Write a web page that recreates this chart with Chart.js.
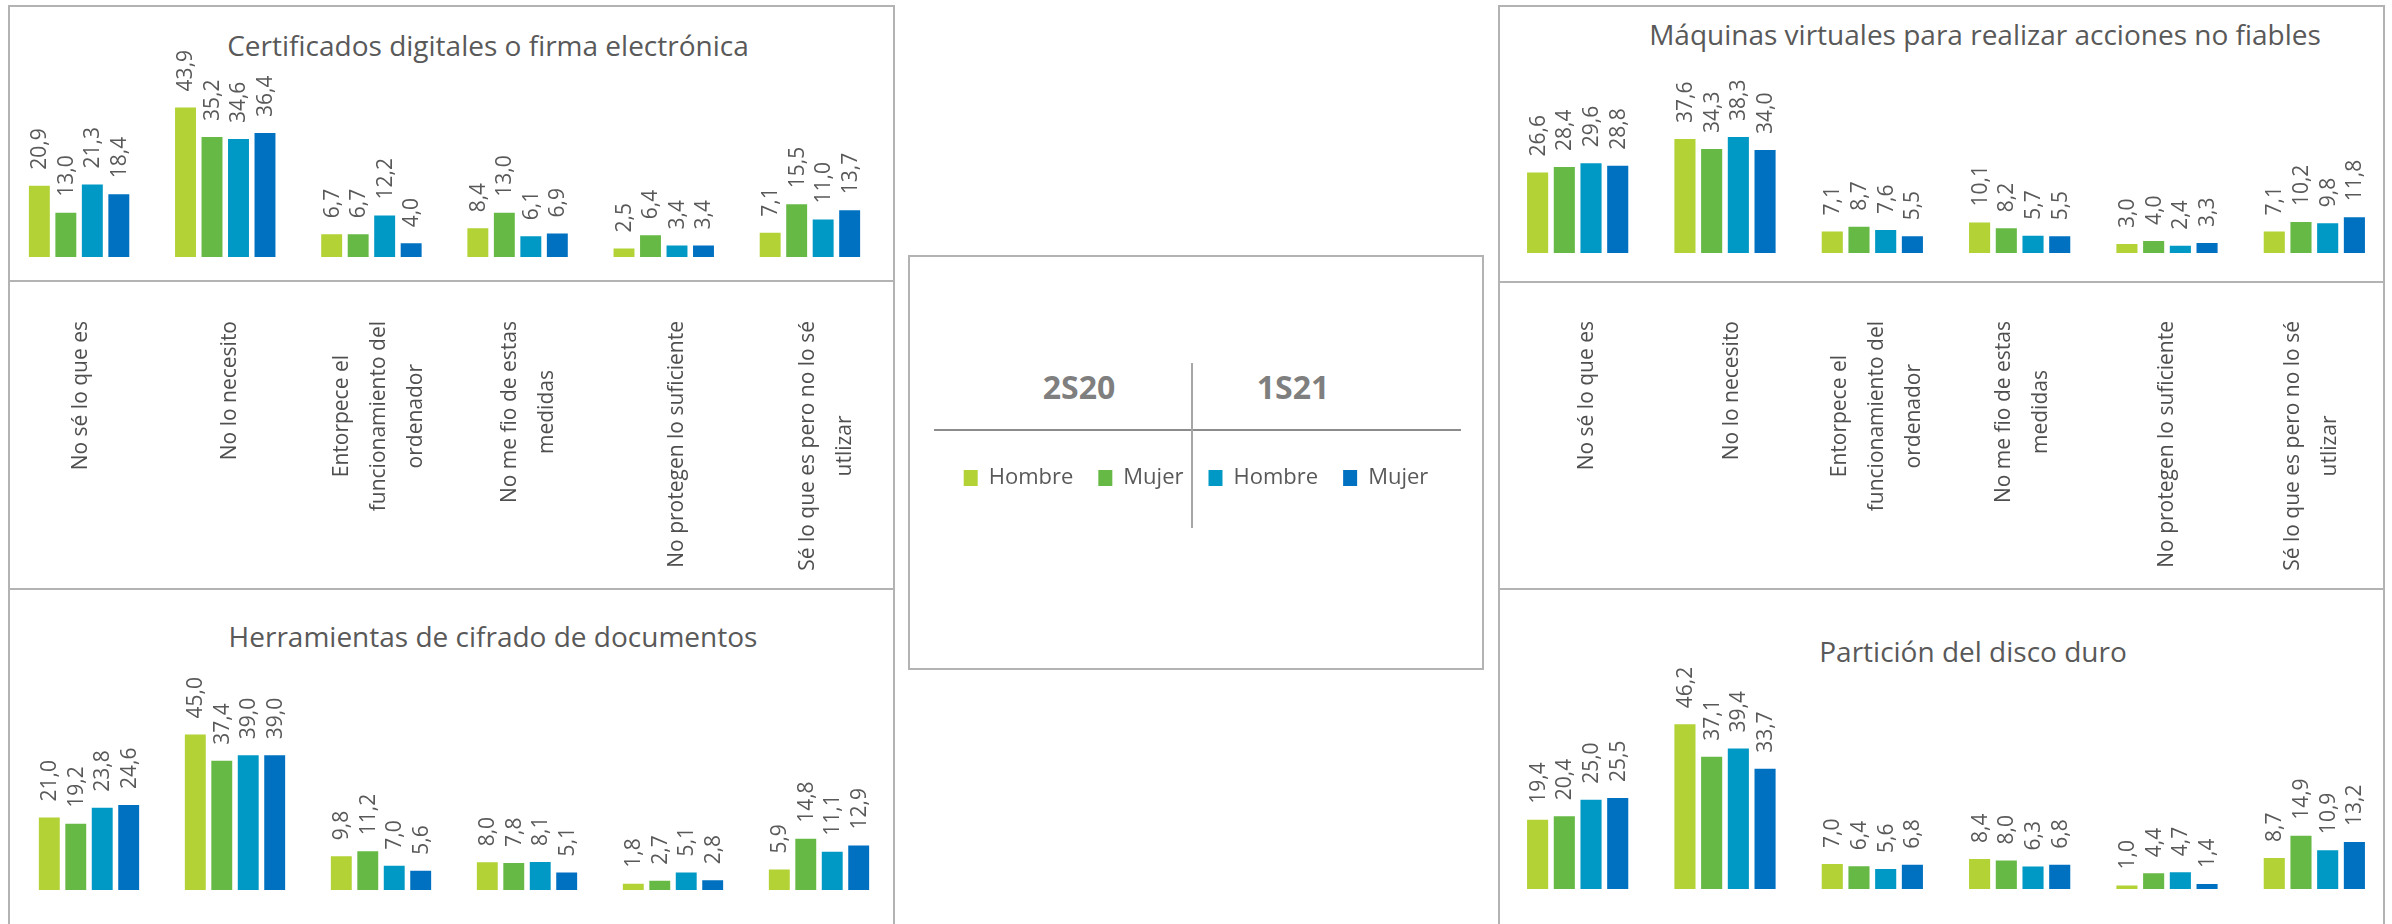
<!DOCTYPE html>
<html lang="es">
<head>
<meta charset="utf-8">
<title>Motivos para no utilizar medidas de seguridad</title>
<script src="https://cdn.jsdelivr.net/npm/chart.js@4.4.1/dist/chart.umd.min.js"></script>
<style>
  html, body { margin: 0; padding: 0; background: #ffffff; }
  body { width: 2392px; height: 924px; position: relative; overflow: hidden; font-family: "Open Sans", sans-serif; }
  .box { position: absolute; border: 2px solid #b3b3b3; box-sizing: border-box; }
  canvas { position: absolute; }
  .title { position: absolute; white-space: nowrap; font-size: 28px; line-height: 28px; color: #595959; transform: translateX(-50%); }
  .head { position: absolute; white-space: nowrap; font-size: 32px; line-height: 32px; font-weight: 700; color: #7f7f7f; transform: translateX(-50%); }
  .line { position: absolute; }
</style>
</head>
<body>
<!-- frames -->
<div class="box" style="left:8px;top:5px;width:887px;height:277px;"></div>
<div class="box" style="left:8px;top:280px;width:887px;height:310px;"></div>
<div class="box" style="left:8px;top:588px;width:887px;height:400px;"></div>
<div class="box" style="left:1498px;top:5px;width:887px;height:278px;"></div>
<div class="box" style="left:1498px;top:281px;width:887px;height:309px;"></div>
<div class="box" style="left:1498px;top:588px;width:887px;height:400px;"></div>
<div class="box" style="left:908px;top:255px;width:576px;height:415px;"></div>

<!-- legend headers and separators -->
<div class="head" style="left:1079px;top:371px;">2S20</div>
<div class="head" style="left:1293px;top:371px;">1S21</div>
<div class="line" style="left:934px;top:429px;width:527px;height:2px;background:#8c8c8c;"></div>
<div class="line" style="left:1191px;top:363px;width:2px;height:165px;background:#a6a6a6;"></div>

<div id="titles"></div>

<script>
// ---------- data ----------
const categories = [
  "No sé lo que es",
  "No lo necesito",
  "Entorpece el funcionamiento del ordenador",
  "No me fio de estas medidas",
  "No protegen lo suficiente",
  "Sé lo que es pero no lo sé utlizar"
];
const tickLabels = [
  ["No sé lo que es"],
  ["No lo necesito"],
  ["Entorpece el", "funcionamiento del", "ordenador"],
  ["No me fio de estas", "medidas"],
  ["No protegen lo suficiente"],
  ["Sé lo que es pero no lo sé", "utlizar"]
];
const seriesNames = ["Hombre", "Mujer", "Hombre", "Mujer"];
const periods = ["2S20", "2S20", "1S21", "1S21"];

const titleCert = "Certificados digitales o firma electrónica";
const cert_h2S20 = [20.9, 43.9, 6.7, 8.4, 2.5, 7.1];
const cert_m2S20 = [13.0, 35.2, 6.7, 13.0, 6.4, 15.5];
const cert_h1S21 = [21.3, 34.6, 12.2, 6.1, 3.4, 11.0];
const cert_m1S21 = [18.4, 36.4, 4.0, 6.9, 3.4, 13.7];

const titleCifr = "Herramientas de cifrado de documentos";
const cifr_h2S20 = [21.0, 45.0, 9.8, 8.0, 1.8, 5.9];
const cifr_m2S20 = [19.2, 37.4, 11.2, 7.8, 2.7, 14.8];
const cifr_h1S21 = [23.8, 39.0, 7.0, 8.1, 5.1, 11.1];
const cifr_m1S21 = [24.6, 39.0, 5.6, 5.1, 2.8, 12.9];

const titleVirt = "Máquinas virtuales para realizar acciones no fiables";
const virt_h2S20 = [26.6, 37.6, 7.1, 10.1, 3.0, 7.1];
const virt_m2S20 = [28.4, 34.3, 8.7, 8.2, 4.0, 10.2];
const virt_h1S21 = [29.6, 38.3, 7.6, 5.7, 2.4, 9.8];
const virt_m1S21 = [28.8, 34.0, 5.5, 5.5, 3.3, 11.8];

const titlePart = "Partición del disco duro";
const part_h2S20 = [19.4, 46.2, 7.0, 8.4, 1.0, 8.7];
const part_m2S20 = [20.4, 37.1, 6.4, 8.0, 4.4, 14.9];
const part_h1S21 = [25.0, 39.4, 5.6, 6.3, 4.7, 10.9];
const part_m1S21 = [25.5, 33.7, 6.8, 6.8, 1.4, 13.2];

// ---------- styles ----------
const seriesColors = ["#b2d235", "#67b946", "#0098c4", "#0071c1"];
const textGray = "#595959";
const labelGray = "#4f4f4f";

function fmt(v) { return v.toFixed(1).replace(".", ","); }

const valueLabels = {
  id: "valueLabels",
  afterDatasetsDraw(chart) {
    const ctx = chart.ctx;
    ctx.save();
    ctx.font = '21px "Open Sans"';
    ctx.fillStyle = textGray;
    ctx.textAlign = "left";
    ctx.textBaseline = "middle";
    chart.data.datasets.forEach((ds, di) => {
      chart.getDatasetMeta(di).data.forEach((bar, i) => {
        ctx.save();
        ctx.translate(bar.x + 1, bar.y - 16);
        ctx.rotate(-Math.PI / 2);
        ctx.fillText(fmt(ds.data[i]), 0, 0);
        ctx.restore();
      });
    });
    ctx.restore();
  }
};

function addCanvas(left, top, width, height) {
  const c = document.createElement("canvas");
  c.width = width; c.height = height;
  c.style.left = left + "px"; c.style.top = top + "px";
  c.style.width = width + "px"; c.style.height = height + "px";
  document.body.appendChild(c);
  return c;
}

function addTitle(text, cx, baseline) {
  const d = document.createElement("div");
  d.className = "title";
  d.textContent = text;
  d.style.left = cx + "px";
  d.style.top = (baseline - 25) + "px";
  document.getElementById("titles").appendChild(d);
}

// chart area: left/right x, baseline y, pixels per unit
function barChart(series, area) {
  const yMax = 50;
  const canvasTop = area.canvasTop;
  const width = area.right - area.left;
  const height = area.baseline - canvasTop;
  const chartTop = area.baseline - yMax * area.ppu;
  const c = addCanvas(area.left, canvasTop, width, height);
  return new Chart(c, {
    type: "bar",
    data: {
      labels: categories,
      datasets: series.map((d, i) => ({
        label: seriesNames[i] + " " + periods[i],
        data: d,
        backgroundColor: seriesColors[i],
        borderWidth: 0,
        categoryPercentage: 0.725,
        barPercentage: 0.79
      }))
    },
    options: {
      responsive: false,
      animation: false,
      devicePixelRatio: 1,
      layout: { padding: { top: chartTop - canvasTop, left: 0, right: 0, bottom: 0 } },
      plugins: { legend: { display: false }, tooltip: { enabled: false }, title: { display: false } },
      scales: {
        x: { display: false, offset: true },
        y: { display: false, min: 0, max: yMax }
      }
    },
    plugins: [valueLabels]
  });
}

// centre multi-line rotated tick labels and hang them from a common top line
function centredLabels(topY) {
  return {
    id: "centredLabels",
    beforeDraw(chart) {
      const scale = chart.scales.x;
      const items = scale.getLabelItems();
      if (items._adjusted) return;
      items._adjusted = true;
      const ctx = chart.ctx;
      items.forEach(it => {
        const lines = Array.isArray(it.label) ? it.label : [it.label];
        ctx.save();
        ctx.font = it.font.string;
        const maxW = Math.max(...lines.map(l => ctx.measureText(l).width));
        ctx.restore();
        it.textOffset -= (lines.length - 1) / 2 * it.font.lineHeight;
        it.options.textAlign = "center";
        it.options.translation = [it.options.translation[0], topY + maxW / 2];
      });
    }
  };
}

function labelChart(left, right, top, height, labelTop) {
  const c = addCanvas(left, top, right - left, height);
  return new Chart(c, {
    type: "bar",
    data: { labels: tickLabels, datasets: [] },
    options: {
      responsive: false,
      animation: false,
      devicePixelRatio: 1,
      layout: { padding: 0 },
      plugins: { legend: { display: false }, tooltip: { enabled: false } },
      scales: {
        x: {
          position: "bottom",
          offset: true,
          grid: { display: false, drawTicks: false },
          border: { display: false },
          ticks: {
            autoSkip: false, minRotation: 90, maxRotation: 90, padding: 0,
            color: labelGray,
            font: { family: "Open Sans", size: 21, lineHeight: "37px" }
          },
          afterFit(s) { s.height = height - 2; }
        },
        y: { display: false }
      }
    },
    plugins: [centredLabels(labelTop - top)]
  });
}

function legendChart() {
  const left = 909, top = 442, width = 574, height = 130;
  const c = addCanvas(left, top, width, height);
  return new Chart(c, {
    type: "bar",
    data: {
      labels: [],
      datasets: seriesNames.map((n, i) => ({ label: n, data: [], backgroundColor: seriesColors[i], borderWidth: 0 }))
    },
    options: {
      responsive: false,
      animation: false,
      devicePixelRatio: 1,
      layout: { padding: 0 },
      scales: { x: { display: false }, y: { display: false } },
      plugins: {
        tooltip: { enabled: false },
        legend: {
          display: true, position: "top", maxHeight: 120,
          labels: { boxWidth: 14, boxHeight: 16, padding: 25, color: textGray, font: { family: "Open Sans", size: 22 } }
        }
      }
    }
  });
}

function build() {
  Chart.defaults.font.family = "Open Sans";

  addTitle(titleCert, 488, 56);
  addTitle(titleVirt, 1985, 45);
  addTitle(titleCifr, 493, 647);
  addTitle(titlePart, 1973, 662);

  barChart([cert_h2S20, cert_m2S20, cert_h1S21, cert_m1S21], { left: 6, right: 883, baseline: 257, ppu: 3.408, canvasTop: 20 });
  barChart([virt_h2S20, virt_m2S20, virt_h1S21, virt_m1S21], { left: 1504, right: 2388, baseline: 253, ppu: 3.03, canvasTop: 20 });
  barChart([cifr_h2S20, cifr_m2S20, cifr_h1S21, cifr_m1S21], { left: 16, right: 892, baseline: 890, ppu: 3.455, canvasTop: 620 });
  barChart([part_h2S20, part_m2S20, part_h1S21, part_m1S21], { left: 1504, right: 2388, baseline: 889, ppu: 3.566, canvasTop: 620 });

  labelChart(6, 901, 284, 304, 321);
  labelChart(1515, 2386, 285, 303, 321);

  legendChart();
}

const fontReady = (document.fonts && document.fonts.load)
  ? Promise.all([
      document.fonts.load('21px "Open Sans"'),
      document.fonts.load('bold 32px "Open Sans"')
    ]).catch(() => null)
  : Promise.resolve();
fontReady.then(build);
</script>
</body>
</html>
